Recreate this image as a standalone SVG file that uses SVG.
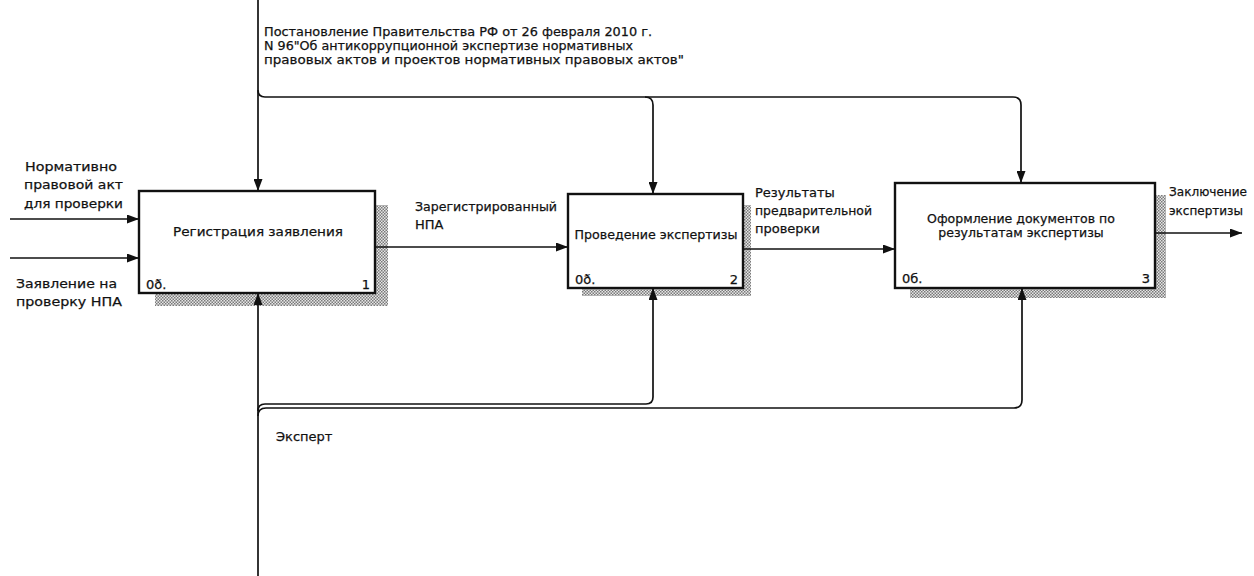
<svg xmlns="http://www.w3.org/2000/svg" width="1254" height="576" viewBox="0 0 1254 576">
  <style>
    text { font-family: "DejaVu Sans", "Liberation Sans", sans-serif; font-size: 13px; fill: #111; stroke: #111; stroke-width: 0.25; }
    .box { fill: #fff; stroke: #111; stroke-width: 2.4; }
    .shadow { fill: url(#hatch); }
    .arc { fill: none; stroke: #111; stroke-width: 1.7; }
    .mid { text-anchor: middle; }
    .end { text-anchor: end; }
    .small { font-size: 12.5px; }
  </style>
  <defs>
    <pattern id="hatch" width="3" height="3" patternUnits="userSpaceOnUse">
      <rect width="3" height="3" fill="#e6e6e6"/>
      <rect x="0" y="0" width="1.5" height="1.5" fill="#7a7a7a"/>
      <rect x="1.5" y="1.5" width="1.5" height="1.5" fill="#7a7a7a"/>
    </pattern>
    <marker id="arrow" viewBox="0 0 12 9" refX="12" refY="4.5" markerWidth="12" markerHeight="9" markerUnits="userSpaceOnUse" orient="auto">
      <path d="M0,0 L12,4.5 L0,9 Z" fill="#111"/>
    </marker>
  </defs>

  <!-- activity 1 -->
  <g id="node-1">
    <rect class="shadow" x="375" y="205" width="13" height="101"/>
    <rect class="shadow" x="155" y="293" width="233" height="13"/>
    <rect class="box" x="139" y="191" width="236" height="102"/>
    <text class="mid" x="258" y="236" textLength="170" lengthAdjust="spacingAndGlyphs">Регистрация заявления</text>
    <text x="146" y="289">0ð.</text>
    <text class="end" x="370" y="289">1</text>
  </g>

  <!-- activity 2 -->
  <g id="node-2">
    <rect class="shadow" x="743" y="205" width="8" height="91"/>
    <rect class="shadow" x="582" y="288" width="169" height="8"/>
    <rect class="box" x="568" y="194" width="175" height="94"/>
    <text class="mid" x="656" y="239" textLength="163" lengthAdjust="spacingAndGlyphs">Проведение экспертизы</text>
    <text x="575" y="284">0ð.</text>
    <text class="end" x="738" y="284">2</text>
  </g>

  <!-- activity 3 -->
  <g id="node-3">
    <rect class="shadow" x="1155" y="195" width="11" height="103"/>
    <rect class="shadow" x="910" y="288" width="256" height="10"/>
    <rect class="box" x="895" y="183" width="260" height="105"/>
    <text class="mid small" x="1021" y="223">Оформление документов по</text>
    <text class="mid small" x="1021" y="237">результатам экспертизы</text>
    <text x="902" y="283">0б.</text>
    <text class="end" x="1150" y="283">3</text>
  </g>

  <!-- arrows -->
  <g id="connectors">
    <!-- control -->
    <path class="arc" d="M258,0 V191" marker-end="url(#arrow)"/>
    <path class="arc" d="M258,90 Q258,97 265,97 H1013 Q1021,97 1021,105 V183" marker-end="url(#arrow)"/>
    <path class="arc" d="M645,97 Q653,97 653,105 V194" marker-end="url(#arrow)"/>
    <!-- inputs -->
    <path class="arc" d="M10,219 H139" marker-end="url(#arrow)"/>
    <path class="arc" d="M10,258 H139" marker-end="url(#arrow)"/>
    <!-- outputs -->
    <path class="arc" d="M375,247 H568" marker-end="url(#arrow)"/>
    <path class="arc" d="M743,249 H895" marker-end="url(#arrow)"/>
    <path class="arc" d="M1155,233 H1242" marker-end="url(#arrow)"/>
    <!-- mechanism -->
    <path class="arc" d="M258,576 V293" marker-end="url(#arrow)"/>
    <path class="arc" d="M258,411 Q258,404 265,404 H646 Q653,404 653,397 V288" marker-end="url(#arrow)"/>
    <path class="arc" d="M258,416 Q258,408 266,408 H1014 Q1022,408 1022,400 V288" marker-end="url(#arrow)"/>
  </g>

  <!-- arrow labels -->
  <g id="labels">
    <text x="264" y="36" textLength="388" lengthAdjust="spacingAndGlyphs">Постановление Правительства РФ от 26 февраля 2010 г.</text>
    <text x="264" y="50" textLength="369" lengthAdjust="spacingAndGlyphs">N 96"Об антикоррупционной экспертизе нормативных</text>
    <text x="264" y="64" textLength="420" lengthAdjust="spacingAndGlyphs">правовых актов и проектов нормативных правовых актов"</text>
    <text x="25" y="171" textLength="92" lengthAdjust="spacingAndGlyphs">Нормативно</text>
    <text x="24" y="189" textLength="99" lengthAdjust="spacingAndGlyphs">правовой акт</text>
    <text x="24" y="208" textLength="99" lengthAdjust="spacingAndGlyphs">для проверки</text>
    <text x="16" y="288" textLength="101" lengthAdjust="spacingAndGlyphs">Заявление на</text>
    <text x="16" y="306" textLength="106" lengthAdjust="spacingAndGlyphs">проверку НПА</text>
    <text x="415" y="211" textLength="142" lengthAdjust="spacingAndGlyphs">Зарегистрированный</text>
    <text x="415" y="229">НПА</text>
    <text x="755" y="197">Результаты</text>
    <text x="755" y="215" textLength="117" lengthAdjust="spacingAndGlyphs">предварительной</text>
    <text x="755" y="233">проверки</text>
    <text x="1169" y="196" textLength="78" lengthAdjust="spacingAndGlyphs">Заключение</text>
    <text x="1169" y="215" textLength="74" lengthAdjust="spacingAndGlyphs">экспертизы</text>
    <text x="276" y="441">Эксперт</text>
  </g>
</svg>
